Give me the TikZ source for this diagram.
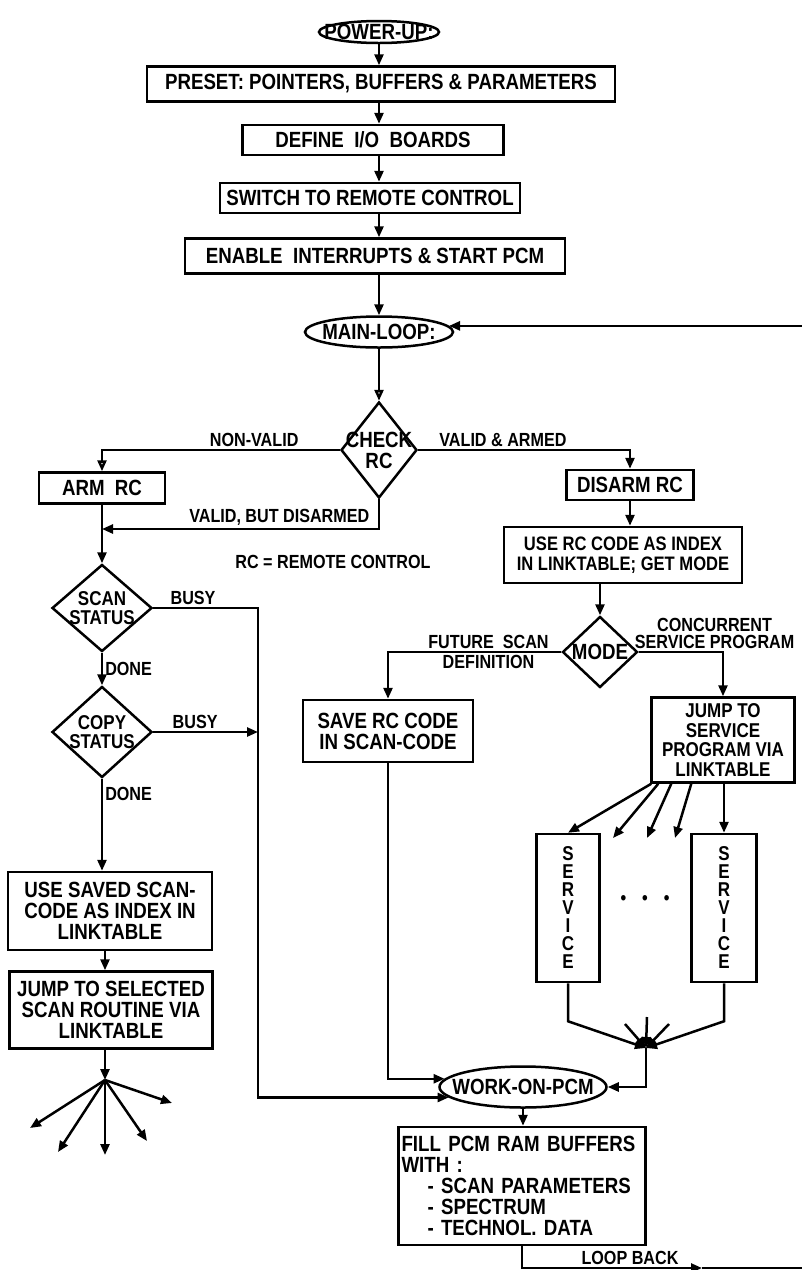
\documentclass[tikz,border=0pt]{standalone}
\usepackage{fontspec}
\setmainfont[FakeStretch=0.85]{Liberation Sans}
\usepackage{tikz}
\usetikzlibrary{shapes.geometric,arrows.meta}

\tikzset{
  process/.style={draw=black, line width=2.5pt, inner sep=3pt, align=center,
    font=\fontsize{22}{21}\selectfont\bfseries},
  terminal/.style={ellipse, draw=black, line width=2.5pt, inner sep=0pt},
  decision/.style={diamond, draw=black, line width=2.5pt, inner sep=0pt},
  boxtext/.style={align=center, inner sep=0pt, font=\fontsize{22}{21}\selectfont\bfseries},
  smalltext/.style={align=center, inner sep=0pt, font=\fontsize{20}{19.5}\selectfont\bfseries},
  flowlabel/.style={inner sep=2pt, font=\fontsize{19}{17}\selectfont\bfseries},
  flow/.style={line width=2.5pt, -{Triangle[length=11pt,width=9pt]}},
  openflow/.style={line width=2.5pt, -{Triangle[open,length=11pt,width=9pt]}},
  plainflow/.style={line width=2.5pt}
}

\begin{document}
\begin{tikzpicture}[x=1pt,y=-1pt]
\useasboundingbox (0,0) rectangle (802,1270);

% start-up sequence
\node[terminal, minimum width=120pt, minimum height=22pt, label={[boxtext]center:{POWER-UP:}}](powerup) at (379,32) {};
\node[process, minimum width=468pt, minimum height=35pt](preset) at (381,84) {PRESET: POINTERS, BUFFERS \& PARAMETERS};
\node[process, minimum width=261pt, minimum height=30pt](define) at (373,140) {DEFINE \ I/O \ BOARDS};
\node[process, minimum width=300pt, minimum height=30pt](switch) at (370,198) {SWITCH TO REMOTE CONTROL};
\node[process, minimum width=380pt, minimum height=35pt](enable) at (375,256) {ENABLE \ INTERRUPTS \& START PCM};
\node[terminal, minimum width=148pt, minimum height=31pt, label={[boxtext]center:{MAIN-LOOP:}}](mainloop) at (379,332) {};

\draw[flow] (powerup) -- (powerup |- preset.north);
\draw[flow] (preset.south -| powerup) -- (define.north -| powerup);
\draw[flow] (define.south -| powerup) -- (switch.north -| powerup);
\draw[flow] (switch.south -| powerup) -- (enable.north -| powerup);
\draw[flow] (enable.south -| powerup) -- (mainloop);

% remote control check
\node[decision, minimum width=76pt, minimum height=96pt, label={[boxtext]center:{CHECK\\RC}}](check) at (379,450) {};
\node[process, minimum width=126pt, minimum height=31pt](armrc) at (102,488) {ARM \ RC};
\coordinate (armjoin) at (102,529);
\node[flowlabel](rcnote) at (333,562) {RC = REMOTE CONTROL};

\draw[openflow] (mainloop) -- (check);
\draw[openflow] (check.west) -| node[flowlabel, above, pos=0.18]{NON-VALID} (armrc.north);
\draw[flow] (check.south) |- node[flowlabel, above, pos=0.68]{VALID, BUT DISARMED} (armjoin);

% scan side
\node[decision, minimum width=100pt, minimum height=87pt, label={[smalltext]center:{SCAN\\STATUS}}](scan) at (102,608) {};
\node[decision, minimum width=100pt, minimum height=91pt, label={[smalltext]center:{COPY\\STATUS}}](copy) at (102,732) {};
\coordinate (busyjoin) at (258,732);
\node[process, minimum width=204pt, minimum height=78pt](usesaved) at (110,911) {USE SAVED SCAN-\\CODE AS INDEX IN\\LINKTABLE};
\node[process, minimum width=203pt, minimum height=77pt](jumpscan) at (111,1010) {JUMP TO SELECTED\\SCAN ROUTINE VIA\\LINKTABLE};
\coordinate (scanhub) at (105,1080);
\coordinate (scanout1) at (30,1128);
\coordinate (scanout2) at (58,1152);
\coordinate (scanout3) at (105,1155);
\coordinate (scanout4) at (147,1141);
\coordinate (scanout5) at (172,1103);

\draw[flow] (armrc) -- (scan);
\draw[flow] (scan) -- node[flowlabel, right]{DONE} (copy);
\draw[plainflow] (scan.east) -| node[flowlabel, above, pos=0.19]{BUSY} (busyjoin);
\draw[flow] (copy.east) -- node[flowlabel, above, pos=0.4]{BUSY} (busyjoin);
\draw[flow] (copy) -- node[flowlabel, right, pos=0.17]{DONE} (copy |- usesaved.north);
\draw[flow] (usesaved.south -| scanhub) -- (jumpscan.north -| scanhub);
\draw[flow] (jumpscan.south -| scanhub) -- (scanhub);
\draw[flow] (scanhub) -- (scanout1);
\draw[flow] (scanhub) -- (scanout2);
\draw[flow] (scanhub) -- (scanout3);
\draw[flow] (scanhub) -- (scanout4);
\draw[flow] (scanhub) -- (scanout5);

% remote control side
\node[process, minimum width=127pt, minimum height=30pt](disarm) at (630,485) {DISARM RC};
\node[process, minimum width=238pt, minimum height=56pt, font=\fontsize{19.5}{20}\selectfont\bfseries](userc) at (623,555) {USE RC CODE AS INDEX\\IN LINKTABLE; GET MODE};
\node[decision, minimum width=75pt, minimum height=71pt, label={[boxtext]center:{MODE}}](mode) at (600,652) {};
\node[process, minimum width=170pt, minimum height=62pt](saverc) at (388,731) {SAVE RC CODE\\IN SCAN-CODE};
\node[process, minimum width=143pt, minimum height=85pt, inner sep=1pt, font=\fontsize{20}{19.5}\selectfont\bfseries](jumpsvc) at (723,740) {JUMP TO\\SERVICE\\PROGRAM VIA\\LINKTABLE};

\draw[flow] (check.east) -| node[flowlabel, above, pos=0.2]{VALID \& ARMED} (disarm.north);
\draw[flow] (disarm) -- (disarm |- userc.north);
\draw[flow] (userc.south -| mode) -- (mode);
\draw[flow] (mode.west) -| node[flowlabel, above, pos=0.21]{FUTURE \ SCAN} node[flowlabel, below, pos=0.21]{DEFINITION} (saverc.north);
\draw[flow] (mode.east) -| node[flowlabel, above, align=center, pos=0.45]{CONCURRENT\\SERVICE PROGRAM} (jumpsvc.north);

% service programs
\node[process, minimum width=63pt, minimum height=148pt, font=\fontsize{20}{18}\selectfont\bfseries](serv1) at (568,908) {S\\E\\R\\V\\I\\C\\E};
\node[process, minimum width=65pt, minimum height=148pt, font=\fontsize{20}{18}\selectfont\bfseries](serv2) at (724,908) {S\\E\\R\\V\\I\\C\\E};
\node[flowlabel](svcdots) at (645,900) {\textbullet\hspace{16pt}\textbullet\hspace{16pt}\textbullet};
\coordinate (svcout2) at (613,838);
\coordinate (svcout3) at (647,838);
\coordinate (svcout4) at (675,838);
\coordinate (svchub) at (646,1048);
\coordinate (svcin1) at (625,1024);
\coordinate (svcin2) at (647,1017);
\coordinate (svcin3) at (669,1024);

\draw[flow] ([xshift=1pt]jumpsvc.south west) -- (serv1.north);
\draw[flow] ([xshift=8pt]jumpsvc.south west) -- (svcout2);
\draw[flow] ([xshift=21pt]jumpsvc.south west) -- (svcout3);
\draw[flow] ([xshift=41pt]jumpsvc.south west) -- (svcout4);
\draw[flow] (jumpsvc.south -| serv2) -- (serv2);
\draw[flow] (serv1.south) -- ++(0,38) -- (svchub);
\draw[flow] (serv2.south) -- ++(0,38) -- (svchub);
\draw[flow] (svcin1) -- (svchub);
\draw[flow] (svcin2) -- (svchub);
\draw[flow] (svcin3) -- (svchub);

% PCM output and loop back
\node[terminal, minimum width=167pt, minimum height=41pt, label={[boxtext]center:{WORK-ON-PCM}}](work) at (523,1087) {};
\node[process, align=left, text width=241pt, minimum height=118pt](fill) at (522,1186)
  {FILL PCM RAM BUFFERS\\WITH :\\\hspace*{26pt}- SCAN PARAMETERS\\\hspace*{26pt}- SPECTRUM\\\hspace*{26pt}- TECHNOL. DATA};
\coordinate (loopmid) at (702,1268);
\coordinate (loopcorner) at (806,1268);

\draw[flow] (busyjoin) |- (work.188);
\draw[flow] (saverc.south) |- (work.174);
\draw[flow] (svchub) |- (work.east);
\draw[flow] (work) -- (work |- fill.north);
\draw[flow] (fill.south) |- node[flowlabel, above, pos=0.8]{LOOP BACK} (loopmid);
\draw[flow] (loopmid) -- (loopcorner) |- (mainloop.5);
\end{tikzpicture}
\end{document}
